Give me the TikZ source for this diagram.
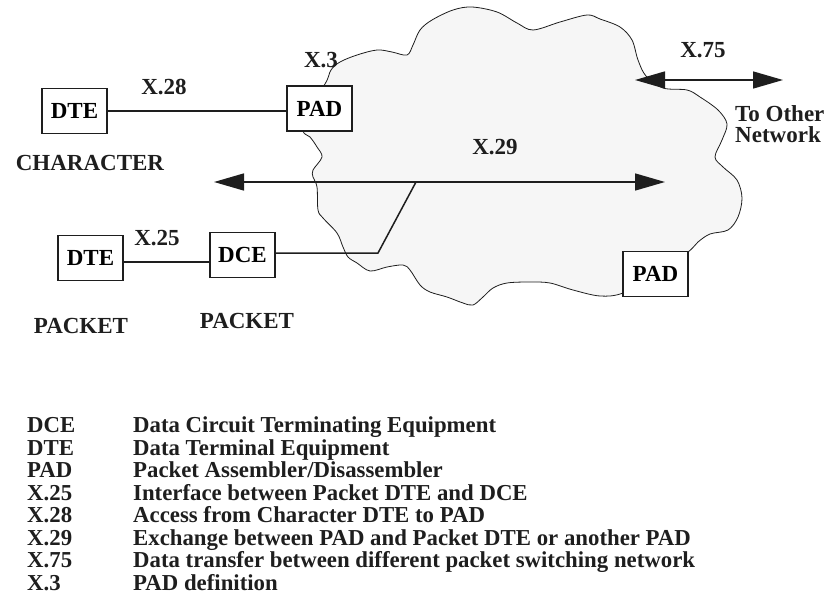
\documentclass[tikz,border=0pt]{standalone}
\usepackage{fontspec}
\setmainfont{Liberation Serif}
\usepackage{tikz}
\usetikzlibrary{arrows.meta}
\definecolor{cloudgray}{RGB}{246,246,246}
\definecolor{ink}{RGB}{30,30,30}
\newcommand{\lab}{\fontsize{23}{21}\selectfont\bfseries}
\tikzset{
  unit/.style={draw=ink,line width=1.6pt,fill=white,minimum width=65pt,minimum height=45pt,inner sep=0pt,font=\lab},
  tag/.style={font=\lab,inner sep=0pt,text=ink},
  link/.style={draw=ink,line width=1.5pt},
  both/.style={link,{Triangle[length=30pt,width=17pt]}-{Triangle[length=30pt,width=17pt]}}
}
\begin{document}
\begin{tikzpicture}[x=1pt,y=-1pt]
    \useasboundingbox (0,0) rectangle (832,607);
    \draw[fill=cloudgray,draw=ink,line width=0.8pt] plot[smooth cycle,tension=0.55] coordinates {
      (305,110) (325,84) (331,70) (340,62) (357,55) (377,50) (392,52) (407,55)
      (413,45) (420,30) (432,20) (453,10) (472,7) (497,12) (517,23) (533,30)
      (560,22) (587,15) (600,19) (620,27) (632,40) (638,60) (646,76) (663,88)
      (687,90) (700,97) (718,110) (727,124) (722,140) (715,157) (723,167) (737,180)
      (742,198) (738,217) (728,230) (710,234) (698,242) (688,252) (655,275) (623,293)
      (600,296) (573,290) (550,283) (530,282) (507,283) (493,288) (483,297) (473,305)
      (463,303) (447,297) (430,292) (420,285) (410,270) (403,265) (387,267) (370,271)
      (357,263) (348,257) (343,247) (337,233) (323,218) (318,210) (317,187) (313,177)
      (313,170) (322,157) (317,147) (310,137) (303,131)};
    \coordinate (x29l) at (214,182);
    \coordinate (x29r) at (665,182);
    \coordinate (x75l) at (635,80);
    \coordinate (x75r) at (783,80);
    \coordinate (bend) at (378,253);
    \coordinate (tap) at (416,182);
    \node[unit] (dte1) at (74.5,111) {DTE};
    \node[unit] (pad1) at (319.5,108.5) {PAD};
    \node[unit] (dte2) at (90.5,258) {DTE};
    \node[unit] (dce) at (242.5,255) {DCE};
    \node[unit] (pad2) at (655.5,274) {PAD};
    \draw[link] (dte1.east) -- (dte1.east -| pad1.west);
    \draw[link] ([yshift=-4pt]dte2.east) -- ([yshift=-4pt]dte2.east -| dce.west);
    \draw[link] ([yshift=2pt]dce.east) -- (bend) -- (tap);
    \draw[both] (x29l) -- (x29r);
    \draw[both] (x75l) -- (x75r);
    \node[tag] (l28) at (164,87) {X.28};
    \node[tag] (l3) at (321,60) {X.3};
    \node[tag] (chr) at (90,163) {CHARACTER};
    \node[tag] (l29) at (495,147) {X.29};
    \node[tag] (l25) at (157,238) {X.25};
    \node[tag] (pk1) at (81,326) {PACKET};
    \node[tag] (pk2) at (247,321) {PACKET};
    \node[tag] (l75) at (703,50) {X.75};
    \node[tag,anchor=west,align=left] (other) at (735,124) {To Other\\Network};
    \node[anchor=base west,inner sep=0pt,text=ink] (legend) at (27,432.5) {\parbox[t]{720pt}{\fontsize{22.8}{22.5}\selectfont\bfseries
      \makebox[106pt][l]{DCE}Data Circuit Terminating Equipment\\
      \makebox[106pt][l]{DTE}Data Terminal Equipment\\
      \makebox[106pt][l]{PAD}Packet Assembler/Disassembler\\
      \makebox[106pt][l]{X.25}Interface between Packet DTE and DCE\\
      \makebox[106pt][l]{X.28}Access from Character DTE to PAD\\
      \makebox[106pt][l]{X.29}Exchange between PAD and Packet DTE or another PAD\\
      \makebox[106pt][l]{X.75}Data transfer between different packet switching network\\
      \makebox[106pt][l]{X.3}PAD definition}};
\end{tikzpicture}
\end{document}
